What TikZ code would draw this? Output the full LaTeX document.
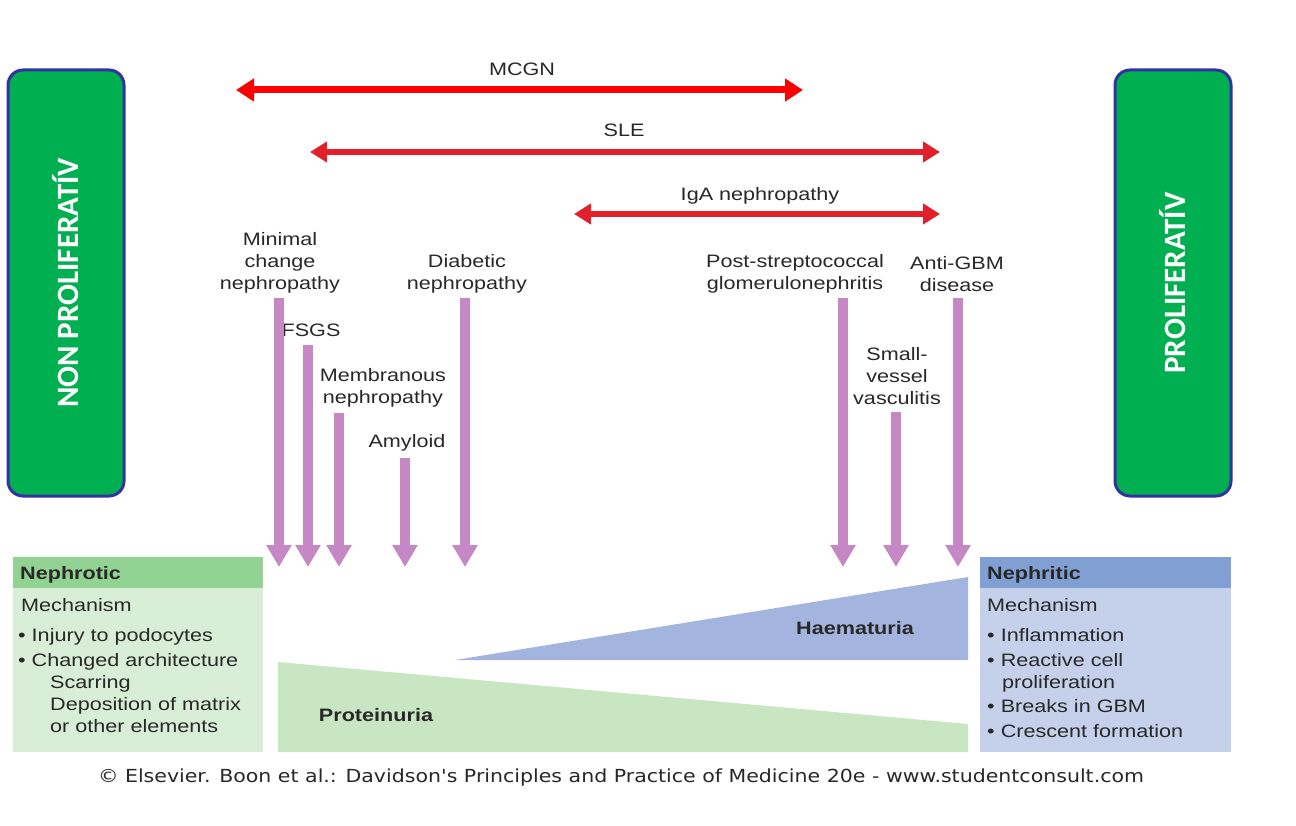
\documentclass[tikz,border=0pt]{standalone}
\usepackage{fontspec}
\setmainfont{Liberation Sans}[FakeStretch=1.2]
\newfontfamily\boxfont{Carlito}
\newfontfamily\footfont{DejaVu Sans}[FakeStretch=1.14]
\usetikzlibrary{arrows.meta}
\definecolor{boxgreen}{RGB}{0,176,80}
\definecolor{boxborder}{RGB}{50,50,160}
\definecolor{redA}{RGB}{255,0,0}
\definecolor{redB}{RGB}{226,32,44}
\definecolor{purp}{RGB}{198,136,196}
\definecolor{txt}{RGB}{40,40,40}
\definecolor{ghead}{RGB}{146,210,146}
\definecolor{gbody}{RGB}{216,238,214}
\definecolor{gwedge}{RGB}{200,230,194}
\definecolor{bhead}{RGB}{128,160,212}
\definecolor{bbody}{RGB}{197,208,234}
\definecolor{bwedge}{RGB}{163,181,222}
\begin{document}
\begin{tikzpicture}[x=1pt,y=-1pt,
  lbl/.style={font=\fontsize{18}{22}\selectfont, text=txt, align=center, inner sep=0pt},
  tl/.style={font=\fontsize{18}{22}\selectfont, text=txt, anchor=base west, inner sep=0pt},
  hd/.style={font=\fontsize{18}{22}\selectfont\bfseries, text=txt, anchor=base west, inner sep=0pt},
  pa/.style={draw=purp, line width=9.5pt, -{Triangle[width=24pt,length=22pt]}},
  ra/.style={draw=redA, line width=7pt, {Triangle[width=22pt,length=18pt]}-{Triangle[width=22pt,length=18pt]}},
  rb/.style={draw=redB, line width=6.5pt, {Triangle[width=20pt,length=17pt]}-{Triangle[width=20pt,length=17pt]}},
  gbox/.style={draw=boxborder, line width=3pt, fill=boxgreen, rounded corners=15pt, rotate=90,
    minimum width=426pt, minimum height=116pt, inner sep=0pt, text=white,
    font=\boxfont\bfseries\fontsize{31}{36}\selectfont}
]
\useasboundingbox (0,0) rectangle (1296,826);
\fill[white] (0,0) rectangle (1296,826);

% side boxes
\node[gbox] (nonp) at (66,283) {NON PROLIFERATÍV};
\node[gbox] (prol) at (1173,283) {PROLIFERATÍV};

% red range arrows
\coordinate (mcL) at (236,90); \coordinate (mcR) at (803,90);
\draw[ra] (mcL) -- (mcR);
\node[lbl] (mcgn) at (522,69) {MCGN};
\coordinate (sleL) at (310,152); \coordinate (sleR) at (940,152);
\draw[rb] (sleL) -- (sleR);
\node[lbl] (sle) at (624,130) {SLE};
\coordinate (igaL) at (574,214); \coordinate (igaR) at (940,214);
\draw[rb] (igaL) -- (igaR);
\node[lbl] (iga) at (760,196) {IgA nephropathy};

% disease labels
\node[lbl] (mcn) at (280,263) {Minimal\\change\\nephropathy};
\node[lbl] (fsgs) at (311,330) {FSGS};
\node[lbl] (memb) at (383,388) {Membranous\\nephropathy};
\node[lbl] (amy) at (407,443) {Amyloid};
\node[lbl] (diab) at (467,274) {Diabetic\\nephropathy};
\node[lbl] (psgn) at (795,274) {Post-streptococcal\\glomerulonephritis};
\node[lbl] (agbm) at (957,274) {Anti-GBM\\disease};
\node[lbl] (ssv) at (897,376) {Small-\\vessel\\vasculitis};

% purple arrows
\coordinate (a1s) at (279,298); \coordinate (a1e) at (279,567);
\coordinate (a2s) at (308,345); \coordinate (a2e) at (308,567);
\coordinate (a3s) at (339,413); \coordinate (a3e) at (339,567);
\coordinate (a4s) at (405,458); \coordinate (a4e) at (405,567);
\coordinate (a5s) at (465,298); \coordinate (a5e) at (465,567);
\coordinate (a6s) at (843,298); \coordinate (a6e) at (843,567);
\coordinate (a7s) at (896,412); \coordinate (a7e) at (896,567);
\coordinate (a8s) at (958,298); \coordinate (a8e) at (958,567);
\foreach \i in {1,...,8} { \draw[pa] (a\i s) -- (a\i e); }

% nephrotic panel
\fill[gbody] (13,587) rectangle (263,752);
\fill[ghead] (13,557) rectangle (263,588);
\node[hd] (nh) at (20,579) {Nephrotic};
\node[tl] (n1) at (21,611) {Mechanism};
\node[tl] (n2) at (18,641) {• Injury to podocytes};
\node[tl] (n3) at (18,666) {• Changed architecture};
\node[tl] (n4) at (50,688) {Scarring};
\node[tl] (n5) at (50,710) {Deposition of matrix};
\node[tl] (n6) at (50,732) {or other elements};

% nephritic panel
\fill[bbody] (980,587) rectangle (1231,752);
\fill[bhead] (980,557) rectangle (1231,588);
\node[hd] (rh) at (987,579) {Nephritic};
\node[tl] (r1) at (987,611) {Mechanism};
\node[tl] (r2) at (987,641) {• Inflammation};
\node[tl] (r3) at (987,666) {• Reactive cell};
\node[tl] (r4) at (1002,688) {proliferation};
\node[tl] (r5) at (987,712) {• Breaks in GBM};
\node[tl] (r6) at (987,737) {• Crescent formation};

% wedges
\fill[gwedge] (278,662) -- (968,724) -- (968,752) -- (278,752) -- cycle;
\fill[bwedge] (455,660) -- (968,577) -- (968,660) -- cycle;
\node[lbl, font=\fontsize{18}{22}\selectfont\bfseries] (haem) at (855,628) {Haematuria};
\node[lbl, font=\fontsize{18}{22}\selectfont\bfseries] (prot) at (376,715) {Proteinuria};

% footer
\node[text=txt, inner sep=0pt, font=\footfont\fontsize{18}{22}\selectfont] (foot) at (621,778)
  {© Elsevier. Boon et al.: Davidson's Principles and Practice of Medicine 20e - www.studentconsult.com};
\end{tikzpicture}
\end{document}
